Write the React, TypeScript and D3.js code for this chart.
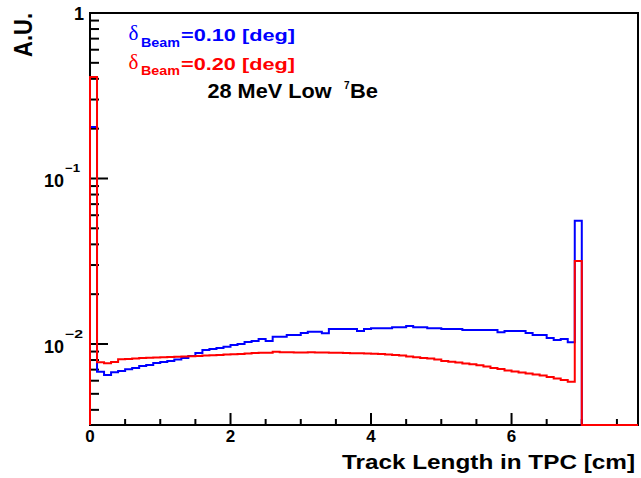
import React from "react";
import * as d3 from "d3";

// Histogram binning (cm)
const xMin = 0;
const xMax = 7.8;
const binWidth = 0.1;

// Bin contents, one value per 0.1 cm bin from 0 to 7.8 cm
const blueValues = [
  0.205,
  0.0068, 0.0065, 0.00675, 0.00687, 0.00703, 0.00716, 0.00736, 0.00747, 0.00768, 0.00779,
  0.00789, 0.00806, 0.00823, 0.00846, 0.00882, 0.0092, 0.00933, 0.00946, 0.00963, 0.00986,
  0.01, 0.01028, 0.01043, 0.01072, 0.01043, 0.01107, 0.01107, 0.01133, 0.01133, 0.01165,
  0.01187, 0.01187, 0.01161, 0.01232, 0.01232, 0.01232, 0.01232, 0.01198, 0.01232, 0.01244,
  0.01244, 0.01244, 0.01262, 0.01262, 0.01285, 0.01262, 0.01262, 0.01244, 0.01244, 0.01232,
  0.01232, 0.01232, 0.01215, 0.01215, 0.01215, 0.01215, 0.01215, 0.01177, 0.01198, 0.01198,
  0.01198, 0.01165, 0.01133, 0.01133, 0.01087, 0.01057, 0.01072, 0.01024,
  0.0556,
  0, 0, 0, 0, 0, 0, 0, 0,
];

const redValues = [
  0.41,
  0.00775, 0.00765, 0.00779, 0.00808, 0.00812, 0.00817, 0.00823, 0.00826, 0.00829, 0.00832,
  0.00835, 0.00838, 0.0084, 0.00844, 0.00846, 0.00852, 0.00855, 0.00858, 0.00864, 0.00867,
  0.0087, 0.00876, 0.00882, 0.00886, 0.00886, 0.00898, 0.00891, 0.00891, 0.00888, 0.00888,
  0.00892, 0.00888, 0.00888, 0.00886, 0.00885, 0.00882, 0.00879, 0.00879, 0.00876, 0.00873,
  0.0087, 0.00864, 0.00858, 0.00852, 0.0084, 0.00831, 0.00823, 0.00817, 0.00806, 0.00789,
  0.00782, 0.00773, 0.00762, 0.00754, 0.00744, 0.00731, 0.00716, 0.00706, 0.00692, 0.00682,
  0.00673, 0.00663, 0.00654, 0.00645, 0.00632, 0.00619, 0.00606, 0.00592,
  0.0317,
  0, 0, 0, 0, 0, 0, 0, 0,
];

const xTickMajor = [0, 2, 4, 6];
const xTickLabels = ["0", "2", "4", "6"];
const yDecades = [1, 0.1, 0.01];
const yMin = 0.00324;
const yMaxVal = 1;

const xTitle = "Track Length in TPC [cm]";
const yTitle = "A.U.";
const legend1 = { sym: "δ", sub: "Beam", text: "=0.10 [deg]", color: "#0000ff" };
const legend2 = { sym: "δ", sub: "Beam", text: "=0.20 [deg]", color: "#ff0000" };

const FONT = "'Liberation Sans', Arial, Helvetica, sans-serif";

export default function App() {
  const W = 641;
  const H = 478;
  const L = 90, R = 638, T = 13, B = 425;

  const x = d3.scaleLinear().domain([xMin, xMax]).range([L, R]);
  const y = d3.scaleLog().domain([yMin, yMaxVal]).range([B, T]);

  const histPath = (vals: number[]) => {
    const pts: [number, number][] = [];
    pts.push([x(xMin), B]);
    vals.forEach((v, i) => {
      const lo = xMin + i * binWidth;
      const hi = lo + binWidth;
      const yy = v > 0 ? y(Math.max(v, yMin)) : B;
      pts.push([x(lo), yy]);
      pts.push([x(hi), yy]);
    });
    return d3.line()(pts) || "";
  };

  // minor ticks
  const xMinor: number[] = [];
  for (let v = 0; v <= xMax + 1e-9; v += 0.5) {
    const r = Math.round(v * 10) / 10;
    if (!xTickMajor.some((m) => Math.abs(m - r) < 1e-6)) xMinor.push(r);
  }
  const yMinor: number[] = [];
  [0.001, 0.01, 0.1].forEach((d) => {
    for (let k = 2; k <= 9; k++) {
      const v = d * k;
      if (v >= yMin && v < yMaxVal) yMinor.push(v);
    }
  });

  return (
    <svg width={W} height={H} style={{ position: "absolute", left: 0, top: 0, background: "#fff" }}>
      <rect x={0} y={0} width={W} height={H} fill="#fff" />
      {/* frame */}
      <rect x={L} y={T} width={R - L} height={B - T} fill="none" stroke="#000" strokeWidth={2} />
      {/* y ticks */}
      {yDecades.map((v) => (
        <line key={"ym" + v} x1={L} x2={L + 18} y1={y(v)} y2={y(v)} stroke="#000" strokeWidth={2} />
      ))}
      {yMinor.map((v) => (
        <line key={"yn" + v} x1={L} x2={L + 9} y1={y(v)} y2={y(v)} stroke="#000" strokeWidth={2} />
      ))}
      {/* x ticks */}
      {xTickMajor.map((v) => (
        <line key={"xm" + v} x1={x(v)} x2={x(v)} y1={B} y2={B - 12} stroke="#000" strokeWidth={2} />
      ))}
      {xMinor.map((v) => (
        <line key={"xn" + v} x1={x(v)} x2={x(v)} y1={B} y2={B - 6} stroke="#000" strokeWidth={2} />
      ))}
      {/* histograms */}
      <path d={histPath(blueValues)} fill="none" stroke="#0000ff" strokeWidth={2} />
      <path d={histPath(redValues)} fill="none" stroke="#ff0000" strokeWidth={2} />

      {/* x tick labels */}
      {xTickMajor.map((v, i) => (
        <text key={"xl" + v} x={x(v)} y={442} textAnchor="middle" fontFamily={FONT} fontWeight="bold" fontSize={17}>
          {xTickLabels[i]}
        </text>
      ))}
      {/* y tick labels */}
      <text x={84} y={20} textAnchor="end" fontFamily={FONT} fontWeight="bold" fontSize={18}>1</text>
      {[0.1, 0.01].map((v) => {
        const e = Math.round(Math.log10(v));
        const yy = y(v);
        return (
          <g key={"yl" + v}>
            <text x={64} y={yy + 9} textAnchor="end" fontFamily={FONT} fontWeight="bold" fontSize={18}>10</text>
            <text x={65} y={yy - 6} textAnchor="start" fontFamily={FONT} fontWeight="bold" fontSize={11}
              textLength={e === -1 ? 15 : 18} lengthAdjust="spacingAndGlyphs">
              {"−" + String(-e)}
            </text>
          </g>
        );
      })}

      {/* axis titles */}
      <text transform="translate(32,13) rotate(-90)" textAnchor="end" fontFamily={FONT} fontWeight="bold" fontSize={25}
        textLength={44} lengthAdjust="spacingAndGlyphs">
        {yTitle}
      </text>
      <text x={635} y={469} textAnchor="end" fontFamily={FONT} fontWeight="bold" fontSize={21}
        textLength={293} lengthAdjust="spacingAndGlyphs">
        {xTitle}
      </text>

      {/* legend */}
      {[legend1, legend2].map((lg, i) => {
        const by = 41 + i * 28.5;
        return (
          <g key={"lg" + i} fill={lg.color}>
            <text x={128.5} y={by - 1} fontFamily="'Liberation Serif', 'DejaVu Serif', serif" fontSize={21}>{lg.sym}</text>
            <text x={141} y={by + 5.5} fontFamily={FONT} fontWeight="bold" fontSize={12}
              textLength={39} lengthAdjust="spacingAndGlyphs">{lg.sub}</text>
            <text x={181} y={by} fontFamily={FONT} fontWeight="bold" fontSize={17}
              textLength={114} lengthAdjust="spacingAndGlyphs">{lg.text}</text>
          </g>
        );
      })}
      <text x={207.5} y={97.5} fontFamily={FONT} fontWeight="bold" fontSize={19.5}
        textLength={124} lengthAdjust="spacingAndGlyphs">28 MeV Low</text>
      <text x={344} y={88.5} fontFamily={FONT} fontWeight="bold" fontSize={10}>7</text>
      <text x={350} y={97.5} fontFamily={FONT} fontWeight="bold" fontSize={19.5}
        textLength={28} lengthAdjust="spacingAndGlyphs">Be</text>
    </svg>
  );
}
